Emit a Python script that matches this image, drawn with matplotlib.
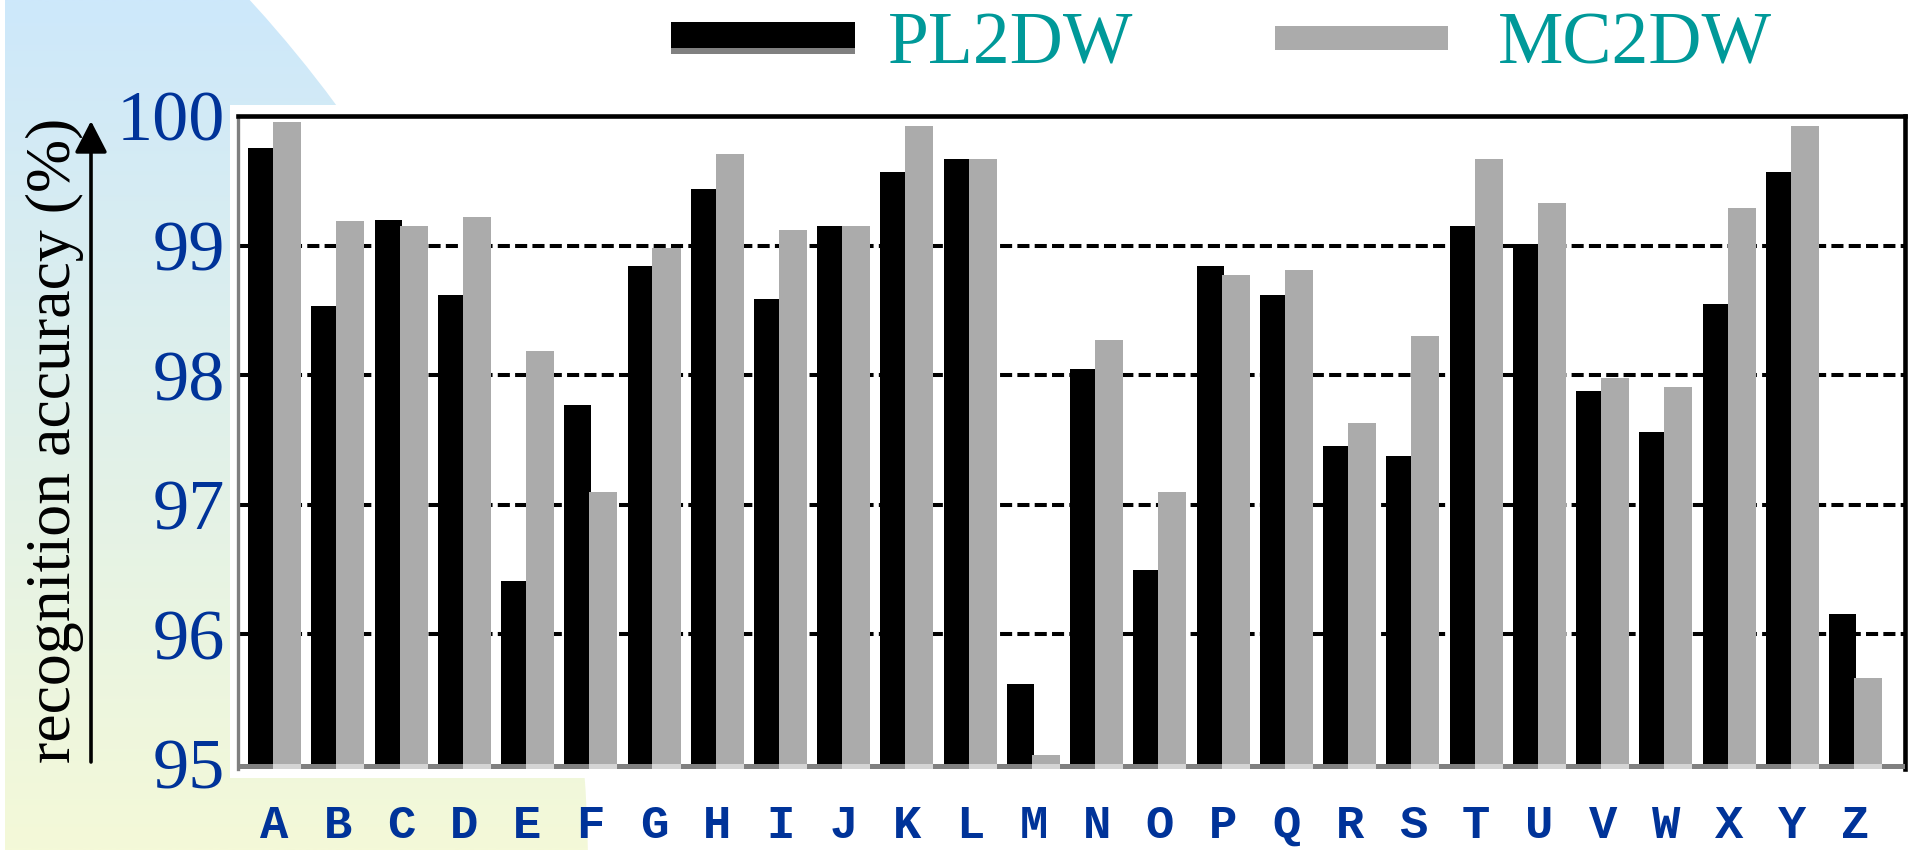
import numpy as np
import matplotlib
matplotlib.use("Agg")
import matplotlib.pyplot as plt
from matplotlib.patches import Circle, Rectangle
from matplotlib.colors import to_rgb

# ---- data -------------------------------------------------------------
letters = list("ABCDEFGHIJKLMNOPQRSTUVWXYZ")
pl2dw = [99.75, 98.53, 99.20, 98.62, 96.41, 97.77, 98.84, 99.44, 98.59, 99.15,
         99.57, 99.67, 95.62, 98.05, 96.50, 98.84, 98.62, 97.45, 97.38, 99.15,
         99.01, 97.88, 97.56, 98.55, 99.57, 96.16]
mc2dw = [99.95, 99.19, 99.15, 99.22, 98.19, 97.10, 98.98, 99.71, 99.12, 99.15,
         99.92, 99.67, 95.07, 98.27, 97.10, 98.77, 98.81, 97.63, 98.30, 99.67,
         99.33, 97.98, 97.91, 99.29, 99.92, 95.66]
series_names = ["PL2DW", "MC2DW"]
y_ticks = [95, 96, 97, 98, 99, 100]
grid_levels = [96, 97, 98, 99]

# ---- style ------------------------------------------------------------
W, H, DPI = 1910, 850, 100
BLUE = "#003399"
TEAL = "#009999"
GRAY = "#ababab"
SERIF = ["Liberation Serif", "DejaVu Serif"]
MONO = ["Liberation Mono", "DejaVu Sans Mono"]

fig = plt.figure(figsize=(W / DPI, H / DPI), dpi=DPI)
fig.patch.set_facecolor("white")

# background layer in pixel units (origin top-left)
bg = fig.add_axes([0, 0, 1, 1], zorder=0)
bg.set_xlim(0, W)
bg.set_ylim(H, 0)
bg.axis("off")

top_c = np.array(to_rgb("#cde8fb"))
bot_c = np.array(to_rgb("#f4f9d8"))
t = np.linspace(0, 1, 256)[:, None, None]
grad = top_c[None, None, :] * (1 - t) + bot_c[None, None, :] * t
grad = np.repeat(grad, 2, axis=1)
img = bg.imshow(grad, extent=(5, W, H, 0), aspect="auto", interpolation="bilinear")
clip = Circle((-700, 870), 1288, transform=bg.transData)
img.set_clip_path(clip)

# white panel behind the plot area
bg.add_patch(Rectangle((230, 105), W - 230, 673, facecolor="white", edgecolor="none"))

# y-axis title with upward arrow
bg.annotate("", xy=(91, 121), xytext=(91, 762),
            arrowprops=dict(arrowstyle="-|>,head_length=0.97,head_width=0.5",
                            lw=2.6, color="black", mutation_scale=20,
                            shrinkA=0, shrinkB=0))
bg.text(55, 440, "recognition accuracy (%)", rotation=90, ha="center", va="center",
        fontsize=46, family=SERIF, color="black")

# legend
bg.add_patch(Rectangle((671, 48), 184, 6, facecolor="#808080", edgecolor="none"))
bg.add_patch(Rectangle((671, 22), 184, 26, facecolor="black", edgecolor="none"))
bg.add_patch(Rectangle((1275, 26), 173, 24, facecolor=GRAY, edgecolor="none"))
bg.text(888, 63, series_names[0], ha="left", va="baseline", fontsize=53,
        family=SERIF, color=TEAL)
bg.text(1498, 63, series_names[1], ha="left", va="baseline", fontsize=53,
        family=SERIF, color=TEAL)

# ---- main chart -------------------------------------------------------
left, right, top, bottom = 238, 1905, 116, 769
ax = fig.add_axes([left / W, 1 - bottom / H, (right - left) / W, (bottom - top) / H],
                  zorder=1)
ax.set_facecolor("none")

x = np.arange(len(letters))
base = y_ticks[0]
strip = 0.039
ax.set_xlim(-0.577, len(letters) - 0.22)
ax.set_ylim(base - strip, y_ticks[-1])

for lvl in grid_levels:
    ax.axhline(lvl, color="black", lw=2.9, linestyle=(0, (3.0, 1.3)), zorder=1)

bw_black, bw_gray = 0.427, 0.443
ax.bar(x - 0.205, np.array(pl2dw) - base, bottom=base, width=bw_black,
       color="black", edgecolor="none", zorder=2)
ax.bar(x + 0.198, np.array(mc2dw) - base, bottom=base, width=bw_gray,
       color=GRAY, edgecolor="none", zorder=3)

# baseline strip: dark band with light segments under the grey bars
ax.axhspan(base - strip, base, color="#808080", lw=0, zorder=4)
ax.bar(x + 0.198, strip, bottom=base - strip, width=bw_gray,
       color="#d4d4d4", edgecolor="none", zorder=5)

for side in ["top", "right"]:
    ax.spines[side].set_color("black")
    ax.spines[side].set_linewidth(3.3)
ax.spines["left"].set_color("#808080")
ax.spines["left"].set_linewidth(2.4)
ax.spines["bottom"].set_visible(False)

ax.set_yticks(y_ticks)
ax.set_yticklabels([str(v) for v in y_ticks], fontsize=52, family=SERIF, color=BLUE)
ax.set_xticks(x)
ax.set_xticklabels(letters, fontsize=34, family=MONO, fontweight="bold", color=BLUE)
ax.tick_params(axis="y", length=0, pad=9.5)
ax.tick_params(axis="x", length=0, pad=25)

fig.savefig("out.png", dpi=DPI)
